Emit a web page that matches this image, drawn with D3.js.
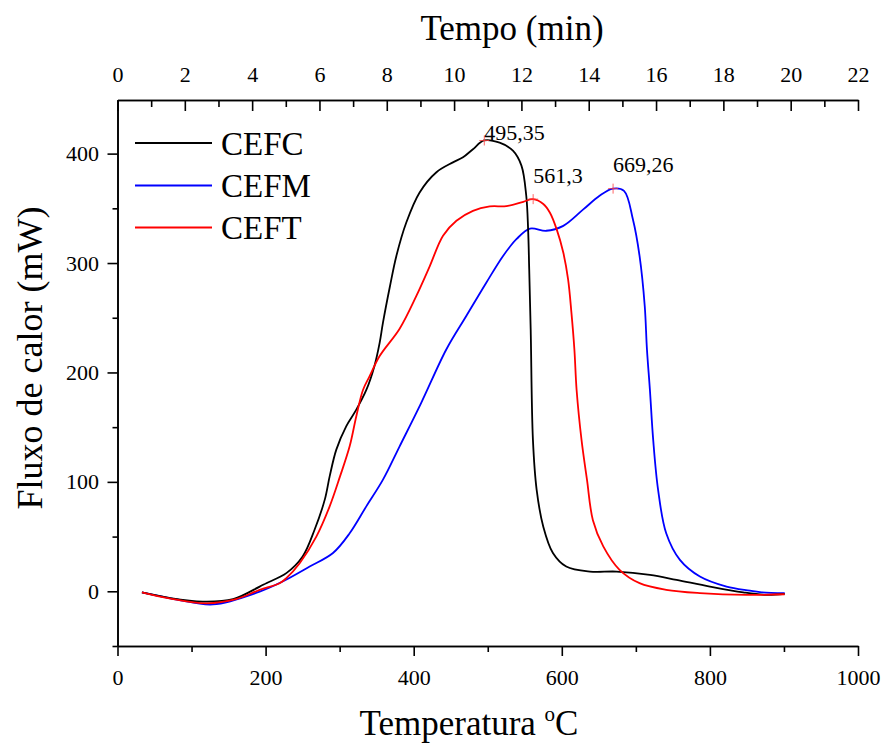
<!DOCTYPE html>
<html>
<head>
<meta charset="utf-8">
<script src="https://cdn.jsdelivr.net/npm/d3@7"></script>
<style>
  html, body { margin: 0; padding: 0; background: #fff; }
  svg { display: block; }
  svg text { font-family: 'Liberation Serif', 'Times New Roman', serif; fill: #000; }
</style>
</head>
<body>
<svg id="chart" width="889" height="745"></svg>
<script>
// ---- data ----
const seriesNames = ["CEFC", "CEFM", "CEFT"];
const seriesColors = ["#000000", "#0000ff", "#ff0000"];

const tempCEFC = [33, 70, 115, 156, 192, 201, 228, 250, 266, 280, 286.5, 295.5, 309, 322.5, 336, 347, 354, 358.5, 368, 376.6, 390, 408, 430.7, 453, 466.6, 480, 495, 516, 534, 545.5, 552, 554.5, 556, 558, 561, 566, 575, 588, 606, 638, 674, 719, 755, 800, 845, 876, 901];
const fluxCEFC = [-1, -6, -9.4, -7.2, 4.3, 7.4, 16.6, 31.8, 56, 84, 105, 129.5, 151, 166, 184, 206, 227, 245.5, 279, 306.5, 337, 364.5, 383, 392, 396.6, 404, 412, 410, 402.7, 389, 361.5, 331, 294, 239, 138.6, 93, 59, 35, 22.6, 18, 18, 15, 10.4, 4.3, -1, -3.3, -2.4];

const tempCEFM = [33, 80, 129, 192, 223, 259.5, 291, 313.5, 336, 358.5, 381, 410, 444, 471, 498, 520.7, 539, 557, 579, 602, 629, 651, 669, 684, 696, 705, 712, 715, 719, 723.4, 730, 741, 759.5, 786.5, 822.5, 854, 867.6, 901];
const fluxCEFM = [-1, -7.5, -12, -0.3, 8.9, 22.6, 35, 53, 77.6, 102, 132.5, 172, 221, 251.6, 282, 306.5, 322, 331.5, 329.5, 334, 349, 361.5, 368, 366, 340, 306.5, 260.7, 221, 184, 138.6, 93, 53, 28.7, 13.5, 4.3, 0.6, -0.8, -1.8];

const tempCEFT = [33, 70, 120, 160, 192, 219, 228, 246, 268.5, 286.5, 300.5, 313.5, 322.5, 331.5, 340.5, 354, 381, 403.6, 421.6, 439.6, 457.7, 480, 502.7, 525, 548, 561, 575, 584, 593, 602, 608.5, 613, 617, 620, 626.6, 634, 642, 656, 678, 705, 741, 786.5, 849.5, 901];
const fluxCEFT = [-1, -6.5, -11, -7.2, 1.3, 7.4, 12, 25.7, 50, 77.6, 105, 132.5, 160, 184, 196.6, 215, 240, 270, 297, 325, 338.6, 347.7, 351.7, 352, 356, 358.4, 354, 346, 331, 309.6, 285, 254.7, 221, 184, 138.6, 102, 65, 41, 19.6, 7.4, 1.3, -1.7, -3.3, -2.7];

const peakTemps = [495.35, 561.3, 669.26];
const peakFlux = [412, 358.4, 368];
const peakLabels = ["495,35", "561,3", "669,26"];

const tempTicks = [0, 200, 400, 600, 800, 1000];
const tempMinorTicks = [100, 300, 500, 700, 900];
const fluxTicks = [0, 100, 200, 300, 400];
const fluxMinorTicks = [-50, 50, 150, 250, 350];
const timeTicks = [0, 2, 4, 6, 8, 10, 12, 14, 16, 18, 20, 22];
const timeMinorTicks = [1, 3, 5, 7, 9, 11, 13, 15, 17, 19, 21];

// ---- build ----
const FONT = "'Liberation Serif', 'Times New Roman', serif";
const svg = d3.select("#chart");
const L = 117.5, R = 858, T = 100, B = 646;

const x = d3.scaleLinear().domain([0, 1000]).range([L, R]);
const xt = d3.scaleLinear().domain([0, 22]).range([L, R]);
const y = d3.scaleLinear().domain([-50, 449]).range([B, T]);

const fontLbl = 22;
const fontTitle = 35;
const fontLegend = 33;

function styleAxis(g) {
  g.attr("font-family", FONT).attr("font-size", fontLbl);
  g.select(".domain").attr("stroke", "#000").attr("stroke-width", 1.6);
  g.selectAll(".tick line").attr("stroke", "#000").attr("stroke-width", 1.6);
  g.selectAll(".tick text").attr("font-family", FONT).attr("font-size", fontLbl)
    .style("font-family", FONT).attr("fill", "#000");
}

// bottom axis
svg.append("g").attr("transform", `translate(0,${B})`)
  .call(d3.axisBottom(x).tickValues(tempMinorTicks).tickSize(6).tickSizeOuter(0).tickFormat(""))
  .call(styleAxis);
svg.append("g").attr("transform", `translate(0,${B})`)
  .call(d3.axisBottom(x).tickValues(tempTicks).tickSize(10).tickSizeOuter(0).tickPadding(13).tickFormat(d3.format("d")))
  .call(styleAxis);

// left axis
svg.append("g").attr("transform", `translate(${L},0)`)
  .call(d3.axisLeft(y).tickValues(fluxMinorTicks).tickSize(5).tickSizeOuter(0).tickFormat(""))
  .call(styleAxis);
svg.append("g").attr("transform", `translate(${L},0)`)
  .call(d3.axisLeft(y).tickValues(fluxTicks).tickSize(10).tickSizeOuter(0).tickPadding(8.5).tickFormat(d3.format("d")))
  .call(styleAxis);

// top axis (time), ticks pointing inward
svg.append("g").attr("transform", `translate(0,${T})`)
  .call(d3.axisTop(xt).tickValues(timeMinorTicks).tickSize(-7).tickSizeOuter(0).tickFormat(""))
  .call(styleAxis);
svg.append("g").attr("transform", `translate(0,${T})`)
  .call(d3.axisTop(xt).tickValues(timeTicks).tickSize(-11).tickSizeOuter(0).tickPadding(18).tickFormat(d3.format("d")))
  .call(styleAxis);

// curves
const seriesT = [tempCEFC, tempCEFM, tempCEFT];
const seriesV = [fluxCEFC, fluxCEFM, fluxCEFT];
const line = d3.line().x(d => x(d[0])).y(d => y(d[1])).curve(d3.curveCatmullRom.alpha(0.5));

const plot = svg.append("g");
[1, 0, 2].forEach(i => {
  const pts = seriesT[i].map((t, k) => [t, seriesV[i][k]]);
  plot.append("path").datum(pts)
    .attr("d", line)
    .attr("fill", "none")
    .attr("stroke", seriesColors[i])
    .attr("stroke-width", 1.8)
    .attr("stroke-linejoin", "round");
});

// peak markers and labels
const labelDy = [0, -16, -16.5];
peakTemps.forEach((t, i) => {
  const px = x(t), py = y(peakFlux[i]);
  const g = svg.append("g");
  g.append("line").attr("x1", px - 5).attr("x2", px + 5).attr("y1", py).attr("y2", py)
    .attr("stroke", "#ff4040").attr("stroke-width", 1).attr("opacity", 0.8);
  g.append("line").attr("x1", px).attr("x2", px).attr("y1", py - 5).attr("y2", py + 5)
    .attr("stroke", "#ff4040").attr("stroke-width", 1).attr("opacity", 0.8);
  svg.append("text").attr("x", px).attr("y", py + labelDy[i])
    .attr("font-family", FONT).attr("font-size", fontLbl).text(peakLabels[i]);
});

// legend
const legY = [143, 185.5, 227.5];
seriesNames.forEach((n, i) => {
  svg.append("line").attr("x1", 135).attr("x2", 212).attr("y1", legY[i]).attr("y2", legY[i])
    .attr("stroke", seriesColors[i]).attr("stroke-width", 1.8);
  svg.append("text").attr("x", 221).attr("y", legY[i] + 11.5)
    .attr("font-family", FONT).attr("font-size", fontLegend).text(n);
});

// axis titles
svg.append("text").attr("x", 512).attr("y", 40).attr("text-anchor", "middle")
  .attr("font-family", FONT).attr("font-size", fontTitle).text("Tempo (min)");

svg.append("text").attr("transform", `translate(42,${358}) rotate(-90)`).attr("text-anchor", "middle")
  .attr("font-family", FONT).attr("font-size", 36).text("Fluxo de calor (mW)");

const xt2 = svg.append("text").attr("x", 469).attr("y", 735).attr("text-anchor", "middle")
  .attr("font-family", FONT).attr("font-size", fontTitle);
xt2.append("tspan").text("Temperatura ");
xt2.append("tspan").attr("dy", -14).attr("font-size", 21).text("o");
xt2.append("tspan").attr("dy", 14).text("C");
</script>
</body>
</html>
